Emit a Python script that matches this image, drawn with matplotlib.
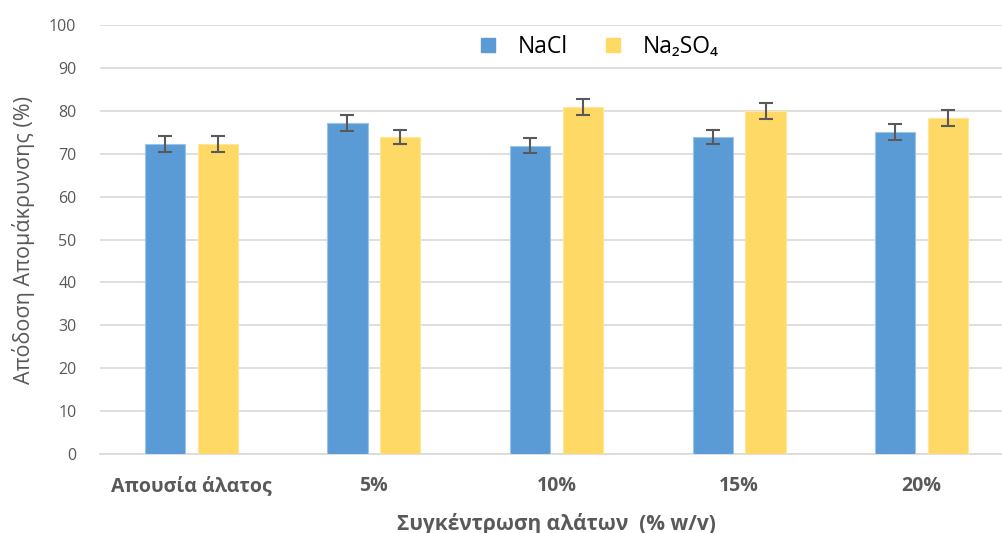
import matplotlib
matplotlib.use("Agg")
import matplotlib.pyplot as plt
import numpy as np

# Dados do gráfico
categorias = ["Απουσία άλατος", "5%", "10%", "15%", "20%"]
nacl = [72.3, 77.1, 71.9, 73.9, 75.0]
nacl_erro = [1.8, 1.9, 1.8, 1.7, 1.9]
na2so4 = [72.3, 73.9, 80.9, 79.9, 78.4]
na2so4_erro = [1.8, 1.7, 1.9, 1.9, 1.9]
series = ["NaCl", "Na₂SO₄"]

plt.rcParams['font.family'] = ['Open Sans', 'DejaVu Sans']

azul = "#5B9BD5"
amarelo = "#FFD966"
cinza = "#595959"

fig = plt.figure(figsize=(10.03, 5.33), dpi=100)
ax = fig.add_axes([100 / 1003, 79 / 533, 913 / 1003, 429 / 533])

x = np.arange(len(categorias))
largura = 0.22
desloc = 0.145

ax.bar(x - desloc, nacl, largura, color=azul, edgecolor="#9DC3E6", linewidth=0.8,
       yerr=nacl_erro, error_kw=dict(ecolor=cinza, elinewidth=1.5, capsize=5, capthick=1.5),
       zorder=3, label=series[0])
ax.bar(x + desloc, na2so4, largura, color=amarelo, edgecolor="#FFE699", linewidth=0.8,
       yerr=na2so4_erro, error_kw=dict(ecolor=cinza, elinewidth=1.5, capsize=5, capthick=1.5),
       zorder=3, label=series[1])

ax.set_ylim(0, 100)
ax.set_xlim(-0.5, 4.5)
ax.set_yticks(range(0, 101, 10))
ax.yaxis.grid(True, color="#D9D9D9", linewidth=1.2, zorder=0)
ax.set_axisbelow(True)
for lado in ["top", "right", "left"]:
    ax.spines[lado].set_visible(False)
ax.spines["bottom"].set_color("#D9D9D9")
ax.spines["bottom"].set_linewidth(1.2)
ax.tick_params(axis="both", length=0)
ax.tick_params(axis="y", labelsize=11.5, labelcolor=cinza, pad=17)
ax.set_xticks(x)
ax.set_xticklabels(categorias, fontsize=14, fontweight="bold", color=cinza)
ax.tick_params(axis="x", pad=16)

ax.set_ylabel("Απόδοση Απομάκρυνσης (%)", fontsize=15.5, color=cinza, labelpad=10)
ax.set_xlabel("Συγκέντρωση αλάτων  (% w/v)", fontsize=15, fontweight="bold",
              color=cinza, labelpad=12)

handles = [plt.Line2D([], [], marker="s", linestyle="", markersize=10, color=azul),
           plt.Line2D([], [], marker="s", linestyle="", markersize=10, color=amarelo)]
fig.legend(handles, series, loc="center", bbox_to_anchor=(0.59, 0.912), ncol=2,
           frameon=False, fontsize=16.5, handletextpad=0.3, columnspacing=0.95,
           labelcolor="black")

fig.savefig("out.png", dpi=100)
